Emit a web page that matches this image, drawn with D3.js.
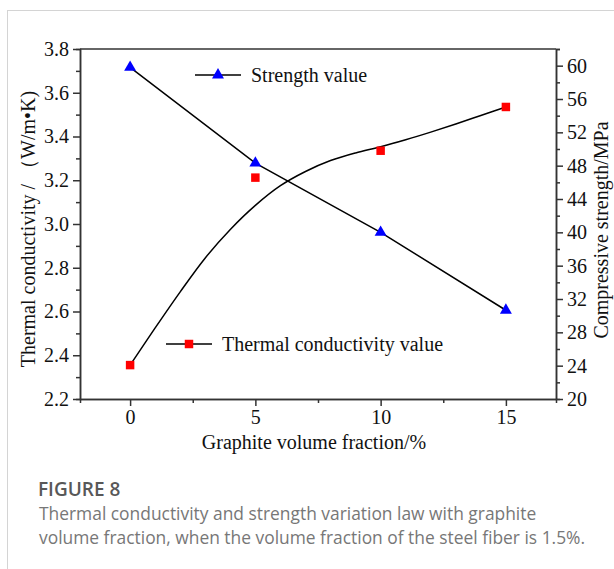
<!DOCTYPE html>
<html>
<head>
<meta charset="utf-8">
<script src="https://cdn.jsdelivr.net/npm/d3@7"></script>
<style>
  html, body { margin: 0; padding: 0; background: #fff; }
  svg { display: block; }
  .axis path, .axis line { stroke: #333; }
  .axis text { font-family: 'Liberation Serif', 'Times New Roman', serif; font-size: 20px; fill: #111; }
</style>
</head>
<body>
<svg id="chart" width="614" height="569"></svg>
<script>
// graphite volume fraction (%)
const fractions = [0, 5, 10, 15];
// measured values
const conductivity = [2.355, 3.212, 3.335, 3.535];
const strength = [59.8, 48.3, 40.0, 30.65];
// fitted conductivity curve
const fitX = [0, 1, 2, 3, 4, 5, 6, 7, 8, 9, 10, 11, 12, 13, 14, 15];
const fitY = [2.355, 2.525, 2.69, 2.845, 2.975, 3.085, 3.175, 3.24, 3.29, 3.325, 3.353, 3.385, 3.42, 3.457, 3.496, 3.535];

const xTicks = [0, 5, 10, 15];
const xMinor = [2.5, 7.5, 12.5];
const leftTicks = [2.2, 2.4, 2.6, 2.8, 3.0, 3.2, 3.4, 3.6, 3.8];
const leftMinor = [2.3, 2.5, 2.7, 2.9, 3.1, 3.3, 3.5, 3.7];
const rightTicks = [20, 24, 28, 32, 36, 40, 44, 48, 52, 56, 60];
const rightMinor = [22, 26, 30, 34, 38, 42, 46, 50, 54, 58, 62];

const svg = d3.select('#chart');
const plot = { left: 80, right: 556, top: 49, bottom: 399 };
const SERIF = "'Liberation Serif', 'Times New Roman', serif";

const x = d3.scaleLinear().domain([-2, 17]).range([plot.left, plot.right]);
const yL = d3.scaleLinear().domain([2.2, 3.8]).range([plot.bottom, plot.top]);
const yR = d3.scaleLinear().domain([20, 62]).range([plot.bottom, plot.top]);

// page frame
svg.append('line').attr('x1', 7.5).attr('x2', 7.5).attr('y1', 10).attr('y2', 569)
  .attr('stroke', '#d4d4d4').attr('stroke-width', 1);
svg.append('line').attr('x1', 7).attr('x2', 614).attr('y1', 10.5).attr('y2', 10.5)
  .attr('stroke', '#d4d4d4').attr('stroke-width', 1);

// top border
svg.append('line')
  .attr('x1', plot.left).attr('x2', plot.right)
  .attr('y1', plot.top).attr('y2', plot.top)
  .attr('stroke', '#333').attr('stroke-width', 1.5);

function addAxis(gen, transform) {
  const g = svg.append('g').attr('class', 'axis').attr('transform', transform).call(gen);
  g.selectAll('path, line').attr('stroke-width', 1.5);
  return g;
}

// minor ticks
addAxis(d3.axisBottom(x).tickValues(xMinor).tickSize(4).tickFormat(''), `translate(0,${plot.bottom})`);
addAxis(d3.axisLeft(yL).tickValues(leftMinor).tickSize(4).tickFormat(''), `translate(${plot.left},0)`);
addAxis(d3.axisRight(yR).tickValues(rightMinor).tickSize(4).tickFormat(''), `translate(${plot.right},0)`);

// major ticks
addAxis(d3.axisBottom(x).tickValues(xTicks).tickSize(7).tickSizeOuter(0).tickPadding(4), `translate(0,${plot.bottom})`);
addAxis(d3.axisLeft(yL).tickValues(leftTicks).tickSize(7).tickSizeOuter(0).tickPadding(4).tickFormat(d3.format('.1f')), `translate(${plot.left},0)`);
addAxis(d3.axisRight(yR).tickValues(rightTicks).tickSize(7).tickSizeOuter(0).tickPadding(4), `translate(${plot.right},0)`);

// axis titles
svg.append('text')
  .attr('x', 314).attr('y', 449)
  .attr('text-anchor', 'middle')
  .style('font-family', SERIF).style('font-size', '20px').attr('fill', '#111')
  .text('Graphite volume fraction/%');

svg.append('text')
  .attr('transform', 'translate(35,229) rotate(-90)')
  .attr('text-anchor', 'middle')
  .style('font-family', SERIF).style('font-size', '20px').attr('fill', '#111')
  .text('Thermal conductivity / （W/m•K)');

svg.append('text')
  .attr('transform', 'translate(608,230) rotate(-90)')
  .attr('text-anchor', 'middle')
  .style('font-family', SERIF).style('font-size', '20px').attr('fill', '#111')
  .text('Compressive strength/MPa');

// fitted conductivity curve
const fitPts = fitX.map((d, i) => [d, fitY[i]]);
svg.append('path')
  .datum(fitPts)
  .attr('fill', 'none').attr('stroke', '#000').attr('stroke-width', 1.5)
  .attr('d', d3.line().x(d => x(d[0])).y(d => yL(d[1])).curve(d3.curveCatmullRom));

// strength line
const strPts = fractions.map((d, i) => [d, strength[i]]);
svg.append('path')
  .datum(strPts)
  .attr('fill', 'none').attr('stroke', '#000').attr('stroke-width', 1.5)
  .attr('d', d3.line().x(d => x(d[0])).y(d => yR(d[1])));

const tri = d3.symbol().type(d3.symbolTriangle).size(62);
const sq = d3.symbol().type(d3.symbolSquare).size(72);

svg.append('g').selectAll('path')
  .data(fractions.map((d, i) => [d, conductivity[i]]))
  .join('path')
  .attr('transform', d => `translate(${x(d[0])},${yL(d[1])})`)
  .attr('d', sq).attr('fill', '#ff0000');

svg.append('g').selectAll('path')
  .data(strPts)
  .join('path')
  .attr('transform', d => `translate(${x(d[0])},${yR(d[1])})`)
  .attr('d', tri).attr('fill', '#0000ff');

// legends
function legend(lx, ly, symbol, color, label) {
  const g = svg.append('g').attr('transform', `translate(${lx},${ly})`);
  g.append('line').attr('x1', 0).attr('x2', 46).attr('stroke', '#000').attr('stroke-width', 1.5);
  g.append('path').attr('transform', 'translate(23,0)').attr('d', symbol).attr('fill', color);
  g.append('text').attr('x', 56).attr('y', 7)
    .style('font-family', SERIF).style('font-size', '20px').attr('fill', '#111')
    .text(label);
}
legend(195, 75, tri, '#0000ff', 'Strength value');
legend(166, 344, sq, '#ff0000', 'Thermal conductivity value');

// caption
const SANS = "'Open Sans', 'Noto Sans', sans-serif";
svg.append('text')
  .attr('x', 38).attr('y', 496)
  .style('font-family', SANS).style('font-size', '19px').style('font-weight', 600)
  .attr('fill', '#585858')
  .text('FIGURE 8');
const captionLines = [
  'Thermal conductivity and strength variation law with graphite',
  'volume fraction, when the volume fraction of the steel fiber is 1.5%.'
];
svg.append('g').selectAll('text')
  .data(captionLines)
  .join('text')
  .attr('x', 39).attr('y', (d, i) => 520 + i * 24)
  .style('font-family', SANS).style('font-size', '17.4px')
  .attr('fill', '#777')
  .text(d => d);
</script>
</body>
</html>
